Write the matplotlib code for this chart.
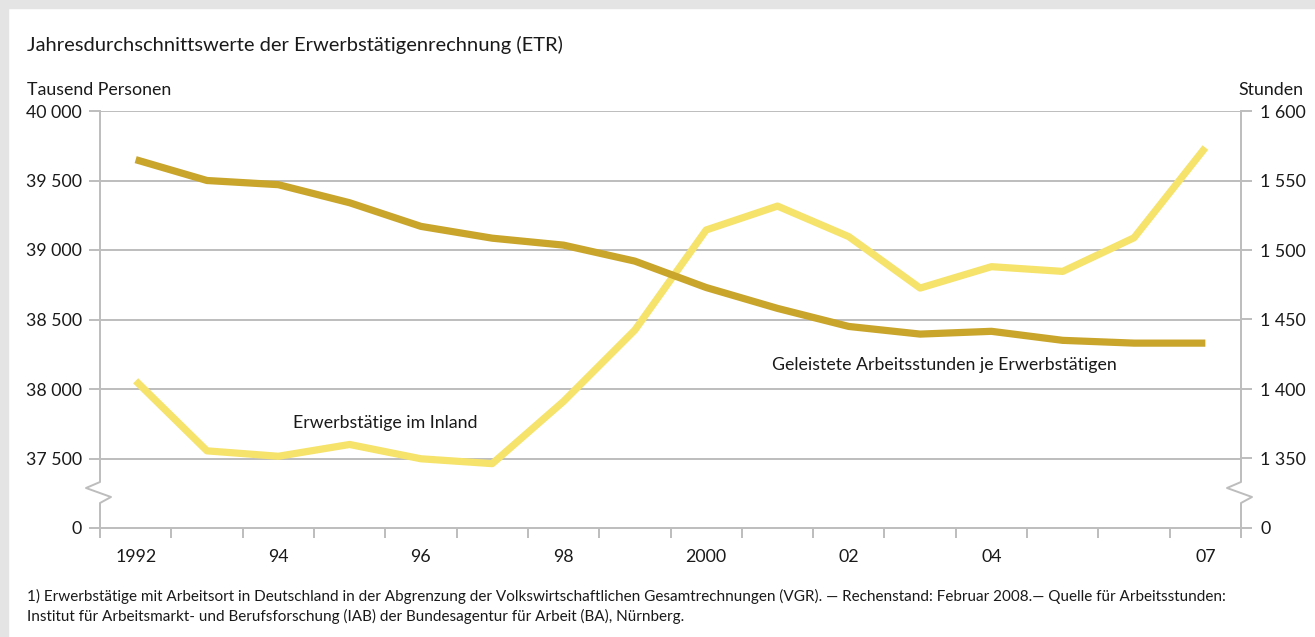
import numpy as np
import matplotlib
matplotlib.use("Agg")
import matplotlib.pyplot as plt
from matplotlib.lines import Line2D

# ---- data ----
years = [1992, 1993, 1994, 1995, 1996, 1997, 1998, 1999, 2000, 2001, 2002, 2003, 2004, 2005, 2006, 2007]
erwerbstaetige = [38059, 37555, 37516, 37601, 37498, 37463, 37911, 38424, 39144, 39316, 39096, 38726, 38880, 38846, 39088, 39737]
stunden = [1565, 1550, 1547, 1534, 1517, 1508.5, 1503.5, 1492, 1473, 1458, 1445, 1439.5, 1441.5, 1435, 1433, 1433]
left_ticks = [0, 37500, 38000, 38500, 39000, 39500, 40000]
right_ticks = [0, 1350, 1400, 1450, 1500, 1550, 1600]
x_tick_years = [1992, 1994, 1996, 1998, 2000, 2002, 2004, 2007]
x_tick_labels = ["1992", "94", "96", "98", "2000", "02", "04", "07"]

plt.rcParams['font.family'] = ['Lato', 'DejaVu Sans']

W, H = 1315, 637
fig = plt.figure(figsize=(W / 100, H / 100), dpi=100)
fig.patch.set_facecolor('white')

def px(x, y):
    return x / W, 1 - y / H

# gray frame strips
fig.add_artist(plt.Rectangle((0, 0), 8 / W, 1, transform=fig.transFigure, color='#e4e4e4', zorder=0))
fig.add_artist(plt.Rectangle((0, 1 - 8 / H), 1, 8 / H, transform=fig.transFigure, color='#e4e4e4', zorder=0))

l, r = 100 / W, 1241 / W
b, t = 1 - 528 / H, 1 - 111 / H
ax = fig.add_axes([l, b, r - l, t - b])
ax.set_facecolor('none')
ax2 = ax.twinx()

# broken scales: linear in the upper part, compressed below
LB, L0 = 37300.0, 37000.0
def fwd_l(v):
    v = np.asarray(v, dtype=float)
    return np.where(v >= LB, v, L0 + v * ((LB - L0) / LB))
def inv_l(u):
    u = np.asarray(u, dtype=float)
    return np.where(u >= LB, u, (u - L0) * (LB / (LB - L0)))
RB, R0 = 1330.0, 1300.0
def fwd_r(v):
    v = np.asarray(v, dtype=float)
    return np.where(v >= RB, v, R0 + v * ((RB - R0) / RB))
def inv_r(u):
    u = np.asarray(u, dtype=float)
    return np.where(u >= RB, u, (u - R0) * (RB / (RB - R0)))

ax.set_yscale('function', functions=(fwd_l, inv_l))
ax2.set_yscale('function', functions=(fwd_r, inv_r))
ax.set_ylim(0, 40000)
ax2.set_ylim(0, 1600)
ax.set_xlim(1991.5, 2007.5)

grid_c = '#bdbdbd'
for v in left_ticks[1:]:
    ax.axhline(v, color=grid_c, lw=1.4, zorder=1)

c_dark = '#c9a52c'
c_light = '#f5e36c'
ax.plot(years, erwerbstaetige, color=c_light, lw=5.2, solid_capstyle='butt', zorder=3)
ax2.plot(years, stunden, color=c_dark, lw=5.2, solid_capstyle='butt', zorder=3)

for s in ['top', 'left', 'right']:
    ax.spines[s].set_visible(False)
    ax2.spines[s].set_visible(False)
ax2.spines['bottom'].set_visible(False)
ax.spines['bottom'].set_color(grid_c)
ax.spines['bottom'].set_linewidth(1.4)

# axis lines with break marks (axes fraction)
hpx = 417.0
wpx = 1141.0
def yf(ypix):
    return (528 - ypix) / hpx
for x0 in [0.0, 1.0]:
    dx1 = -14 / wpx
    dx2 = 11 / wpx
    xs = [x0, x0, x0 + dx1, x0 + dx2, x0, x0]
    ys = [1.0, yf(482), yf(488), yf(497), yf(503), -7 / hpx]
    ax.add_line(Line2D(xs, ys, transform=ax.transAxes, color=grid_c, lw=1.4, clip_on=False, zorder=2))

# y ticks
def fmt(v):
    return f"{v:,}".replace(",", " ")
ax.set_yticks(left_ticks)
ax.set_yticklabels([fmt(v) for v in left_ticks])
ax.yaxis.set_minor_locator(matplotlib.ticker.NullLocator())
ax2.set_yticks(right_ticks)
ax2.set_yticklabels([fmt(v) for v in right_ticks])
ax2.yaxis.set_minor_locator(matplotlib.ticker.NullLocator())
ax.tick_params(axis='y', length=8, width=1.4, color=grid_c, pad=5, labelsize=12.8, labelcolor='#1a1a1a')
ax2.tick_params(axis='y', length=8, width=1.4, color=grid_c, pad=6, labelsize=12.8, labelcolor='#1a1a1a')

# x ticks
ax.set_xticks(x_tick_years)
ax.set_xticklabels(x_tick_labels)
ax.set_xticks(np.arange(1991.5, 2008, 1.0), minor=True)
ax.tick_params(axis='x', which='major', length=0, pad=15, labelsize=12.8, labelcolor='#1a1a1a')
ax.tick_params(axis='x', which='minor', length=7, width=1.4, color=grid_c)

# series labels
ax.text(1995.5, 37752, "Erwerbstätige im Inland", ha='center', va='center', fontsize=12.8, color='#1a1a1a')
ax.text(2000.93, 38170, "Geleistete Arbeitsstunden je Erwerbstätigen", ha='left', va='center', fontsize=12.8, color='#1a1a1a')

# texts
fig.text(*px(27, 45), "Jahresdurchschnittswerte der Erwerbstätigenrechnung (ETR)", ha='left', va='center', fontsize=14.5, color='#1a1a1a')
fig.text(*px(27, 90), "Tausend Personen", ha='left', va='center', fontsize=12.8, color='#1a1a1a')
fig.text(*px(1303, 90), "Stunden", ha='right', va='center', fontsize=12.8, color='#1a1a1a')
fig.text(*px(27, 596), "1) Erwerbstätige mit Arbeitsort in Deutschland in der Abgrenzung der Volkswirtschaftlichen Gesamtrechnungen (VGR). — Rechenstand: Februar 2008.— Quelle für Arbeitsstunden:",
         ha='left', va='center', fontsize=10.95, color='#1a1a1a')
fig.text(*px(27, 616), "Institut für Arbeitsmarkt- und Berufsforschung (IAB) der Bundesagentur für Arbeit (BA), Nürnberg.",
         ha='left', va='center', fontsize=10.95, color='#1a1a1a')

fig.savefig("out.png", dpi=100)
